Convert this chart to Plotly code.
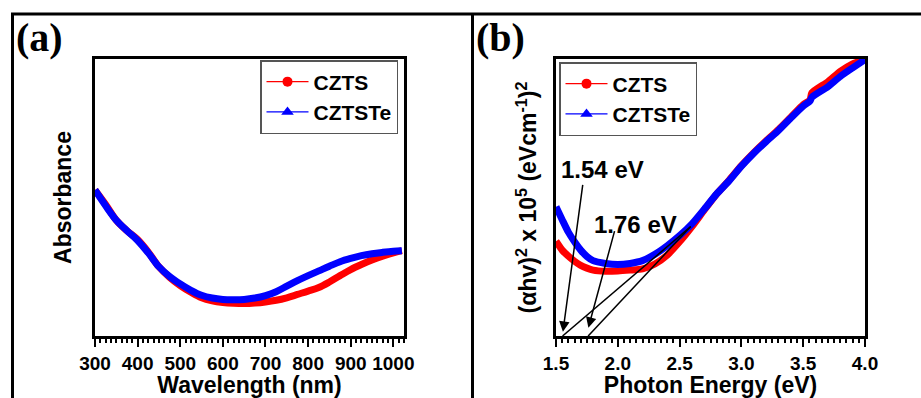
import plotly.graph_objects as go

# ---------------- data ----------------
wavelength = [300, 325, 350, 375, 400, 425, 450, 475, 500, 525, 550, 575, 600, 625, 650,
              675, 700, 725, 750, 775, 800, 825, 850, 875, 900, 925, 950, 975, 1000, 1020]
abs_czts = [0.527, 0.475, 0.418, 0.380, 0.348, 0.303, 0.250, 0.212, 0.182, 0.158, 0.138,
            0.127, 0.121, 0.118, 0.117, 0.119, 0.123, 0.129, 0.138, 0.150, 0.162, 0.175,
            0.195, 0.218, 0.240, 0.258, 0.274, 0.288, 0.300, 0.308]
abs_cztste = [0.527, 0.470, 0.418, 0.380, 0.345, 0.300, 0.250, 0.215, 0.188, 0.165, 0.147,
              0.137, 0.132, 0.131, 0.132, 0.137, 0.146, 0.160, 0.180, 0.200, 0.218, 0.235,
              0.252, 0.268, 0.280, 0.290, 0.297, 0.302, 0.306, 0.308]

energy = [1.50, 1.55, 1.60, 1.65, 1.70, 1.75, 1.80, 1.90, 2.00, 2.10, 2.20, 2.30, 2.40,
          2.50, 2.60, 2.70, 2.80, 2.90, 3.00, 3.10, 3.20, 3.30, 3.40, 3.50, 3.555, 3.57,
          3.70, 3.80, 3.90, 4.00]
tauc_czts = [0.342, 0.310, 0.288, 0.270, 0.255, 0.245, 0.238, 0.234, 0.235, 0.238, 0.242,
             0.260, 0.292, 0.340, 0.395, 0.455, 0.513, 0.562, 0.615, 0.662, 0.705, 0.745,
             0.790, 0.835, 0.852, 0.878, 0.918, 0.955, 0.982, 1.000]
tauc_cztste = [0.467, 0.420, 0.375, 0.340, 0.310, 0.287, 0.272, 0.262, 0.258, 0.262, 0.272,
               0.295, 0.326, 0.362, 0.405, 0.458, 0.513, 0.560, 0.613, 0.660, 0.702, 0.742,
               0.787, 0.830, 0.848, 0.862, 0.900, 0.937, 0.968, 0.998]

tangent1_x = [1.553, 2.59]
tangent1_y = [0.0, 0.395]
tangent2_x = [1.76, 2.59]
tangent2_y = [0.0, 0.395]

gap_labels = ["1.54 eV", "1.76 eV"]
label_x = [1.88, 2.14]
label_y = [0.600, 0.402]
arrow_tail_x = [1.718, 1.977]
arrow_tail_y = [0.551, 0.384]
arrow_head_x = [1.556, 1.762]
arrow_head_y = [0.015, 0.030]

wl_ticks = [300, 400, 500, 600, 700, 800, 900, 1000]
en_ticks = [1.5, 2.0, 2.5, 3.0, 3.5, 4.0]

# ---------------- figure ----------------
W, H = 921, 398
SANS = "Liberation Sans, Arial, sans-serif"
SERIF = "Liberation Serif, Times New Roman, serif"

def px_x(p):
    return p / W

def px_y(p):
    return 1 - p / H

fig = go.Figure()

# panel (a) curves
fig.add_trace(go.Scatter(x=wavelength, y=abs_czts, mode="lines", line=dict(color="#ff0000", width=7, shape="spline"),
                         showlegend=False, xaxis="x", yaxis="y"))
fig.add_trace(go.Scatter(x=wavelength, y=abs_cztste, mode="lines", line=dict(color="#0000ff", width=7, shape="spline"),
                         showlegend=False, xaxis="x", yaxis="y"))
# legend entries (a)
fig.add_trace(go.Scatter(x=[None], y=[None], mode="lines+markers", name="CZTS",
                         line=dict(color="#ff0000", width=1.3), marker=dict(symbol="circle", size=10, color="#ff0000"),
                         legend="legend", xaxis="x", yaxis="y"))
fig.add_trace(go.Scatter(x=[None], y=[None], mode="lines+markers", name="CZTSTe",
                         line=dict(color="#0000ff", width=1.3), marker=dict(symbol="triangle-up", size=11, color="#0000ff"),
                         legend="legend", xaxis="x", yaxis="y"))

# panel (b) curves
fig.add_trace(go.Scatter(x=energy, y=tauc_czts, mode="lines", line=dict(color="#ff0000", width=7, shape="spline", smoothing=0.6),
                         showlegend=False, xaxis="x2", yaxis="y2"))
fig.add_trace(go.Scatter(x=energy, y=tauc_cztste, mode="lines", line=dict(color="#0000ff", width=7, shape="spline", smoothing=0.6),
                         showlegend=False, xaxis="x2", yaxis="y2"))
# tangent lines
fig.add_trace(go.Scatter(x=tangent1_x, y=tangent1_y, mode="lines", line=dict(color="black", width=1.5),
                         showlegend=False, xaxis="x2", yaxis="y2"))
fig.add_trace(go.Scatter(x=tangent2_x, y=tangent2_y, mode="lines", line=dict(color="black", width=1.5),
                         showlegend=False, xaxis="x2", yaxis="y2"))
# legend entries (b)
fig.add_trace(go.Scatter(x=[None], y=[None], mode="lines+markers", name="CZTS",
                         line=dict(color="#ff0000", width=1.3), marker=dict(symbol="circle", size=10, color="#ff0000"),
                         legend="legend2", xaxis="x2", yaxis="y2"))
fig.add_trace(go.Scatter(x=[None], y=[None], mode="lines+markers", name="CZTSTe",
                         line=dict(color="#0000ff", width=1.3), marker=dict(symbol="triangle-up", size=11, color="#0000ff"),
                         legend="legend2", xaxis="x2", yaxis="y2"))

tickfont = dict(family=SANS, size=19, color="black", weight="bold")
titlefont = dict(family=SANS, size=23, color="black", weight="bold")

common_x = dict(showline=True, linewidth=3, linecolor="black", mirror=True, ticks="outside",
                ticklen=8, tickwidth=2, tickcolor="black", showgrid=False, zeroline=False,
                tickfont=tickfont, automargin=False)
common_y = dict(showline=True, linewidth=3, linecolor="black", mirror=True, ticks="",
                showticklabels=False, showgrid=False, zeroline=False, range=[0, 1], automargin=False)

ydom = [px_y(336), px_y(59)]
legfont = dict(family=SANS, size=21, color="black", weight="bold")

fig.update_layout(
    template="none",
    width=W, height=H,
    margin=dict(l=0, r=0, t=0, b=0, pad=0, autoexpand=False),
    paper_bgcolor="white", plot_bgcolor="white",
    xaxis=dict(domain=[px_x(95), px_x(404)], range=[300, 1025], tickvals=wl_ticks,
               minor=dict(dtick=12.5, tick0=300, ticks="outside", ticklen=4, tickwidth=1.5, tickcolor="black"),
               title=dict(text="Wavelength (nm)", font=titlefont, standoff=3), anchor="y", **common_x),
    yaxis=dict(domain=ydom, anchor="x", title=dict(text="Absorbance", font=titlefont, standoff=14), **common_y),
    xaxis2=dict(domain=[px_x(556), px_x(865)], range=[1.5, 4.0], tickvals=en_ticks,
                ticktext=[f"{v:.1f}" for v in en_ticks],
                minor=dict(dtick=0.05, tick0=1.5, ticks="outside", ticklen=4, tickwidth=1.5, tickcolor="black"),
                title=dict(text="Photon Energy (eV)", font=titlefont, standoff=3), anchor="y2", **common_x),
    yaxis2=dict(domain=ydom, anchor="x2",
                title=dict(text="(αhv)<sup>2</sup> x 10<sup>5</sup> (eVcm<sup>-1</sup>)<sup>2</sup>", font=titlefont, standoff=10),
                **common_y),
    legend=dict(x=px_x(260), y=px_y(60), xanchor="left", yanchor="top", bgcolor="white",
                bordercolor="#555", borderwidth=1.5, font=legfont, itemwidth=42, tracegroupgap=0),
    legend2=dict(x=px_x(559), y=px_y(62), xanchor="left", yanchor="top", bgcolor="white",
                 bordercolor="#555", borderwidth=1.5, font=legfont, itemwidth=42, tracegroupgap=0),
)

# outer panel frames
frame = dict(color="black", width=3)
fig.add_shape(type="line", xref="paper", yref="paper", x0=px_x(12.5), x1=px_x(12.5), y0=px_y(13), y1=px_y(400), line=frame)
fig.add_shape(type="line", xref="paper", yref="paper", x0=px_x(11), x1=px_x(921), y0=px_y(14), y1=px_y(14), line=frame)
fig.add_shape(type="line", xref="paper", yref="paper", x0=px_x(472.5), x1=px_x(472.5), y0=px_y(13), y1=px_y(400), line=frame)

# panel labels
fig.add_annotation(text="<b>(a)</b>", xref="paper", yref="paper", x=px_x(14), y=px_y(38), xanchor="left", yanchor="middle",
                   showarrow=False, font=dict(family=SERIF, size=40, color="black"))
fig.add_annotation(text="<b>(b)</b>", xref="paper", yref="paper", x=px_x(474), y=px_y(38), xanchor="left", yanchor="middle",
                   showarrow=False, font=dict(family=SERIF, size=40, color="black"))

# band gap labels and arrows
for t, lx, ly in zip(gap_labels, label_x, label_y):
    fig.add_annotation(text=t, x=lx, y=ly, xref="x2", yref="y2", showarrow=False,
                       font=dict(family=SANS, size=24, color="black", weight="bold"))
for tx, ty, hx, hy in zip(arrow_tail_x, arrow_tail_y, arrow_head_x, arrow_head_y):
    fig.add_annotation(text="", x=hx, y=hy, ax=tx, ay=ty, xref="x2", yref="y2", axref="x2", ayref="y2",
                       showarrow=True, arrowhead=2, arrowsize=1.4, arrowwidth=1.5, arrowcolor="black", standoff=0)

fig.write_html("out.html")
